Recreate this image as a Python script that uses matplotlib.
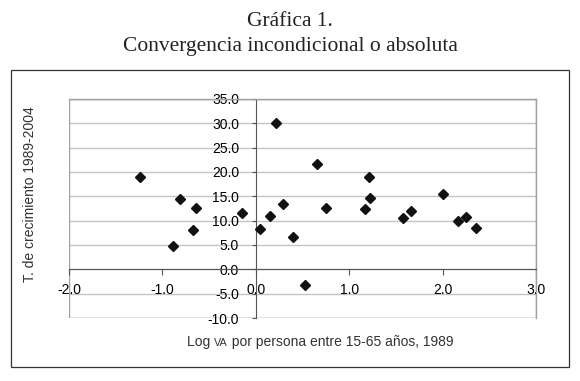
import numpy as np
import matplotlib
matplotlib.use('Agg')
import matplotlib.pyplot as plt
from matplotlib.patches import Rectangle
from matplotlib.offsetbox import TextArea, HPacker, AnchoredOffsetbox

# log VA per person 15-65 (1989) vs growth rate 1989-2004
log_va = [-1.235, -0.81, -0.64, -0.675, -0.89, -0.147, 0.046, 0.157, 0.214, 0.292,
          0.40, 0.53, 0.66, 0.753, 1.21, 1.228, 1.164, 1.577, 1.667, 2.005,
          2.17, 2.25, 2.355]
growth = [19.0, 14.4, 12.7, 8.0, 4.7, 11.6, 8.2, 11.0, 30.0, 13.4,
          6.7, -3.3, 21.6, 12.7, 19.0, 14.7, 12.4, 10.6, 11.9, 15.4,
          10.0, 10.8, 8.5]

xticks = [-2.0, -1.0, 0.0, 1.0, 2.0, 3.0]
yticks = [-10.0, -5.0, 0.0, 5.0, 10.0, 15.0, 20.0, 25.0, 30.0, 35.0]

title1 = 'Gráfica 1.'
title2 = 'Convergencia incondicional o absoluta'
ylab = 'T. de crecimiento 1989-2004'

fs = 10
tfs = 9.6
plt.rcParams['font.family'] = ['Liberation Sans', 'DejaVu Sans']

fig = plt.figure(figsize=(5.8, 3.81), dpi=100)
ax = fig.add_axes([69/580, 1-318/381, 467/580, 219/381])

# outer frame
fig.patches.append(Rectangle((11/580, 1-367/381), 558/580, 297/381,
                             transform=fig.transFigure, fill=False,
                             edgecolor='#333333', lw=0.9))

fig.text(0.5, 1-22/381, title1, ha='center', va='center', fontsize=15.5,
         family='Liberation Serif', color='#222222')
fig.text(0.5, 1-46/381, title2, ha='center', va='center', fontsize=15.5,
         family='Liberation Serif', color='#222222')

for v in yticks:
    ax.axhline(v, color='#c4c4c4', lw=1.0, zorder=0)

ax.plot(log_va, growth, 'D', color='#111111', ms=5, zorder=3)

ax.set_xlim(-2, 3)
ax.set_ylim(-10, 35)
ax.set_xticks(xticks)
ax.set_yticks(yticks)
ax.set_xticklabels(['%.1f' % t for t in xticks], fontsize=tfs, color='#333333')
ax.set_yticklabels(['%.1f' % t for t in yticks], fontsize=tfs, color='#333333')

for s in ['top', 'right']:
    ax.spines[s].set_color('#a0a0a0')
    ax.spines[s].set_linewidth(1.0)
ax.spines['left'].set_position(('data', 0))
ax.spines['bottom'].set_position(('data', 0))
ax.spines['left'].set_color('#555555')
ax.spines['bottom'].set_color('#555555')
ax.spines['left'].set_zorder(2)
# plot-area outline on left and bottom
ax.add_patch(Rectangle((0, 0), 1, 1, transform=ax.transAxes, fill=False,
                       edgecolor='#a0a0a0', lw=1.0, zorder=1))
ax.tick_params(axis='y', direction='out', length=3, pad=9, color='#555555')
ax.tick_params(axis='x', direction='out', length=4, pad=6, color='#555555')

fig.text(30/580, 1-194/381, ylab, rotation=90, ha='center', va='center',
         fontsize=fs, color='#333333')

# x label with small-caps "VA"
parts = [TextArea('Log ', textprops=dict(fontsize=fs, color='#333333')),
         TextArea('VA', textprops=dict(fontsize=fs*0.78, color='#333333')),
         TextArea(' por persona entre 15-65 años, 1989',
                  textprops=dict(fontsize=fs, color='#333333'))]
box = HPacker(children=parts, align='baseline', pad=0, sep=0)
anc = AnchoredOffsetbox(loc='center', child=box, frameon=False,
                        bbox_to_anchor=(320/580, 1-342/381),
                        bbox_transform=fig.transFigure, borderpad=0, pad=0)
fig.add_artist(anc)

fig.savefig('out.png', dpi=100)
